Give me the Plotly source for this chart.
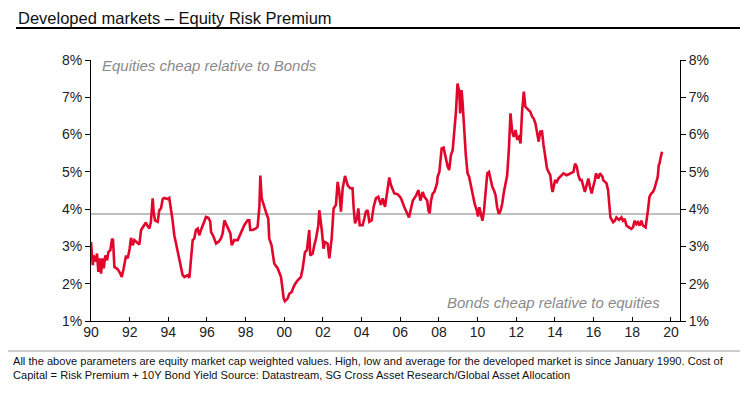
import plotly.graph_objects as go

# ---- data (decimal year, equity risk premium %) ----
years = [
    1990.00, 1990.09, 1990.14, 1990.26, 1990.31, 1990.38, 1990.45, 1990.52, 1990.59, 1990.66,
    1990.74, 1990.83, 1990.90, 1991.00, 1991.09, 1991.14, 1991.21, 1991.38, 1991.52, 1991.59,
    1991.69, 1991.81, 1991.90, 1992.00, 1992.07, 1992.16, 1992.24, 1992.41, 1992.50, 1992.59,
    1992.76, 1992.84, 1992.90, 1993.02, 1993.10, 1993.19, 1993.24, 1993.31, 1993.45, 1993.53,
    1993.62, 1993.71, 1993.79, 1993.97, 1994.05, 1994.14, 1994.22, 1994.31, 1994.48, 1994.66,
    1994.74, 1994.83, 1995.00, 1995.09, 1995.17, 1995.26, 1995.34, 1995.43, 1995.52, 1995.60,
    1995.69, 1995.86, 1995.95, 1996.07, 1996.17, 1996.21, 1996.34, 1996.47, 1996.59, 1996.72,
    1996.81, 1996.90, 1996.98, 1997.07, 1997.21, 1997.28, 1997.41, 1997.59, 1997.76, 1997.93,
    1998.10, 1998.19, 1998.24, 1998.36, 1998.53, 1998.62, 1998.71, 1998.76, 1998.83, 1998.97,
    1999.10, 1999.17, 1999.22, 1999.34, 1999.48, 1999.66, 1999.83, 1999.97, 2000.03, 2000.17,
    2000.26, 2000.38, 2000.52, 2000.69, 2000.86, 2000.95, 2001.07, 2001.17, 2001.29, 2001.34,
    2001.47, 2001.55, 2001.64, 2001.76, 2001.81, 2001.93, 2002.03, 2002.10, 2002.24, 2002.33,
    2002.45, 2002.55, 2002.67, 2002.76, 2002.84, 2002.93, 2003.02, 2003.14, 2003.28, 2003.41,
    2003.53, 2003.59, 2003.66, 2003.76, 2003.83, 2003.90, 2004.05, 2004.14, 2004.22, 2004.31,
    2004.40, 2004.52, 2004.62, 2004.74, 2004.86, 2005.00, 2005.09, 2005.21, 2005.31, 2005.43,
    2005.52, 2005.69, 2005.86, 2006.03, 2006.21, 2006.36, 2006.45, 2006.57, 2006.65, 2006.82,
    2006.94, 2007.04, 2007.16, 2007.25, 2007.39, 2007.46, 2007.52, 2007.59, 2007.68, 2007.76,
    2007.90, 2007.93, 2008.02, 2008.14, 2008.24, 2008.36, 2008.45, 2008.53, 2008.62, 2008.71,
    2008.79, 2008.88, 2008.96, 2009.05, 2009.10, 2009.17, 2009.22, 2009.30, 2009.39, 2009.48,
    2009.56, 2009.65, 2009.73, 2009.85, 2009.96, 2010.02, 2010.09, 2010.16, 2010.25, 2010.33,
    2010.42, 2010.50, 2010.59, 2010.67, 2010.76, 2010.85, 2010.93, 2011.01, 2011.10, 2011.19,
    2011.27, 2011.36, 2011.45, 2011.53, 2011.62, 2011.70, 2011.79, 2011.87, 2011.96, 2012.04,
    2012.13, 2012.22, 2012.30, 2012.39, 2012.47, 2012.56, 2012.73, 2012.82, 2012.90, 2012.99,
    2013.07, 2013.16, 2013.24, 2013.33, 2013.41, 2013.50, 2013.59, 2013.67, 2013.76, 2013.84,
    2013.88, 2014.01, 2014.10, 2014.18, 2014.27, 2014.44, 2014.61, 2014.78, 2014.96, 2015.04,
    2015.13, 2015.21, 2015.30, 2015.38, 2015.47, 2015.55, 2015.64, 2015.73, 2015.81, 2015.90,
    2015.98, 2016.07, 2016.12, 2016.24, 2016.33, 2016.46, 2016.50, 2016.67, 2016.75, 2016.80,
    2016.87, 2017.01, 2017.10, 2017.18, 2017.32, 2017.44, 2017.52, 2017.61, 2017.70, 2017.83,
    2017.95, 2018.04, 2018.12, 2018.21, 2018.29, 2018.38, 2018.47, 2018.55, 2018.69, 2018.81,
    2018.89, 2018.98, 2019.07, 2019.15, 2019.24, 2019.32, 2019.37, 2019.41, 2019.46, 2019.54,
]
erp = [
    3.12, 2.50, 2.76, 2.59, 2.81, 2.32, 2.68, 2.27, 2.68, 2.41,
    2.76, 2.63, 2.85, 2.90, 3.21, 3.17, 2.45, 2.39, 2.27, 2.18,
    2.41, 2.75, 2.68, 2.94, 3.23, 3.03, 3.17, 3.10, 3.05, 3.44,
    3.57, 3.64, 3.57, 3.48, 3.66, 4.29, 3.93, 3.70, 3.66, 3.97,
    4.02, 4.27, 4.30, 4.27, 4.30, 4.02, 3.70, 3.30, 2.90, 2.50,
    2.23, 2.18, 2.23, 2.16, 2.68, 3.17, 3.21, 3.44, 3.48, 3.30,
    3.44, 3.70, 3.79, 3.77, 3.66, 3.39, 3.26, 3.08, 3.12, 3.21,
    3.35, 3.70, 3.62, 3.53, 3.35, 3.03, 3.17, 3.17, 3.35, 3.57,
    3.70, 3.70, 3.44, 3.44, 3.48, 3.53, 4.06, 4.90, 4.29, 4.02,
    3.84, 3.75, 3.21, 3.03, 2.54, 2.41, 2.18, 1.60, 1.53, 1.60,
    1.73, 1.78, 1.96, 2.09, 2.18, 2.41, 2.85, 2.90, 3.44, 2.76,
    2.81, 3.03, 3.21, 3.57, 3.97, 3.48, 2.94, 3.12, 3.08, 2.68,
    3.21, 4.02, 4.11, 4.73, 4.47, 3.93, 4.56, 4.89, 4.64, 4.56,
    4.56, 4.02, 3.62, 3.75, 4.02, 3.57, 3.57, 3.75, 3.93, 3.97,
    3.66, 3.70, 4.06, 4.29, 4.33, 4.11, 4.29, 4.06, 4.38, 4.85,
    4.64, 4.42, 4.40, 4.30, 4.05, 3.85, 3.78, 4.05, 4.23, 4.37,
    4.51, 4.23, 4.46, 4.33, 4.23, 3.96, 3.89, 4.23, 4.42, 4.46,
    4.69, 4.87, 5.00, 5.63, 5.65, 5.36, 5.14, 5.05, 5.45, 5.58,
    5.99, 6.61, 7.37, 7.15, 6.57, 7.19, 6.88, 6.08, 5.45, 4.96,
    4.87, 4.64, 4.42, 4.14, 3.96, 3.80, 4.05, 3.87, 3.69, 3.96,
    4.51, 4.96, 5.00, 4.82, 4.60, 4.50, 4.37, 4.05, 3.87, 3.96,
    4.14, 4.46, 4.69, 4.91, 5.63, 6.57, 6.08, 5.94, 6.12, 5.90,
    5.94, 5.76, 6.61, 7.15, 6.75, 6.70, 6.61, 6.48, 6.43, 6.30,
    6.03, 5.81, 6.08, 6.09, 5.72, 5.45, 5.09, 5.00, 4.91, 4.55,
    4.46, 4.78, 4.73, 4.82, 4.86, 4.96, 4.91, 4.96, 5.00, 5.22,
    5.14, 4.91, 4.78, 4.78, 4.60, 4.46, 4.64, 4.82, 4.60, 4.42,
    4.60, 4.78, 4.96, 4.82, 4.96, 4.87, 4.78, 4.69, 4.51, 4.14,
    3.78, 3.65, 3.69, 3.78, 3.71, 3.78, 3.69, 3.74, 3.56, 3.51,
    3.47, 3.51, 3.69, 3.60, 3.65, 3.56, 3.69, 3.56, 3.51, 3.96,
    4.33, 4.42, 4.46, 4.55, 4.69, 4.87, 5.18, 5.22, 5.36, 5.54,
]
average_level = 3.87

x_tick_vals = [1990, 1992, 1994, 1996, 1998, 2000, 2002, 2004, 2006, 2008,
               2010, 2012, 2014, 2016, 2018, 2020]
x_tick_text = ["90", "92", "94", "96", "98", "00", "02", "04", "06", "08",
               "10", "12", "14", "16", "18", "20"]
y_tick_vals = [1, 2, 3, 4, 5, 6, 7, 8]
y_tick_text = ["1%", "2%", "3%", "4%", "5%", "6%", "7%", "8%"]

title_text = "Developed markets – Equity Risk Premium"
note_top = "Equities cheap relative to Bonds"
note_bottom = "Bonds cheap relative to equities"
footnote = ("All the above parameters are equity market cap weighted values. High, low and average for the developed market is since January 1990. Cost of<br>"
            "Capital = Risk Premium + 10Y Bond Yield Source: Datastream, SG Cross Asset Research/Global Asset Allocation")

W, H = 748, 396
L, R, T, B = 83, 76, 52, 83
sans = "Liberation Sans, Arial, sans-serif"

fig = go.Figure()
fig.add_trace(go.Scatter(x=years, y=erp, mode="lines",
                         line=dict(color="#E2062C", width=2.6),
                         hoverinfo="skip", showlegend=False))
# invisible trace to anchor right axis
fig.add_trace(go.Scatter(x=[years[0]], y=[erp[0]], yaxis="y2", mode="markers",
                         marker=dict(opacity=0), hoverinfo="skip", showlegend=False))

fig.add_shape(type="line", xref="paper", yref="y", x0=0, x1=1,
              y0=average_level, y1=average_level,
              line=dict(color="#808080", width=1.2), layer="below")

axis_common = dict(range=[1, 8], tickvals=y_tick_vals, ticktext=y_tick_text,
                   showgrid=False, zeroline=False, showline=True, linecolor="black",
                   linewidth=1, ticks="outside", ticklen=5, tickcolor="black",
                   tickfont=dict(family=sans, size=14, color="#222"), fixedrange=True)

fig.update_layout(
    width=W, height=H,
    margin=dict(l=L, r=R, t=T, b=B, pad=0),
    paper_bgcolor="white", plot_bgcolor="white",
    xaxis=dict(range=[1990, 2020.47], tickvals=x_tick_vals, ticktext=x_tick_text,
               showgrid=False, zeroline=False, showline=True, linecolor="black",
               linewidth=1, ticks="inside", ticklen=4, tickcolor="black",
               ticklabelstandoff=-2,
               tickfont=dict(family=sans, size=14, color="#222")),
    yaxis=dict(**axis_common, side="left"),
    yaxis2=dict(**axis_common, side="right", overlaying="y"),
)

px = lambda v: (v - L) / (W - L - R)
py = lambda v: 1 - (v - T) / (H - T - B)

# title and underline
fig.add_annotation(xref="paper", yref="paper", x=px(8), y=py(10),
                   xanchor="left", yanchor="middle",
                   text=title_text, showarrow=False,
                   font=dict(family=sans, size=16.5, color="#111"))
fig.add_shape(type="line", xref="paper", yref="paper", x0=px(8), x1=px(748),
              y0=py(20), y1=py(20), line=dict(color="black", width=2.2))

fig.add_annotation(xref="paper", yref="paper", x=px(92), y=py(58),
                   xanchor="left", yanchor="middle", text=note_top, showarrow=False,
                   font=dict(family=sans, size=15, color="#8a8a8a", style="italic"))
fig.add_annotation(xref="paper", yref="paper", x=px(654), y=py(294),
                   xanchor="right", yanchor="middle", text=note_bottom, showarrow=False,
                   font=dict(family=sans, size=15, color="#8a8a8a", style="italic"))

# footnote separator and text
fig.add_shape(type="line", xref="paper", yref="paper", x0=px(0), x1=px(748),
              y0=py(343), y1=py(343), line=dict(color="#9a9a9a", width=1))
fig.add_annotation(xref="paper", yref="paper", x=px(3), y=py(360),
                   xanchor="left", yanchor="middle", align="left", text=footnote,
                   showarrow=False,
                   font=dict(family=sans, size=11.1, color="#111"))

fig.write_html("out.html")
